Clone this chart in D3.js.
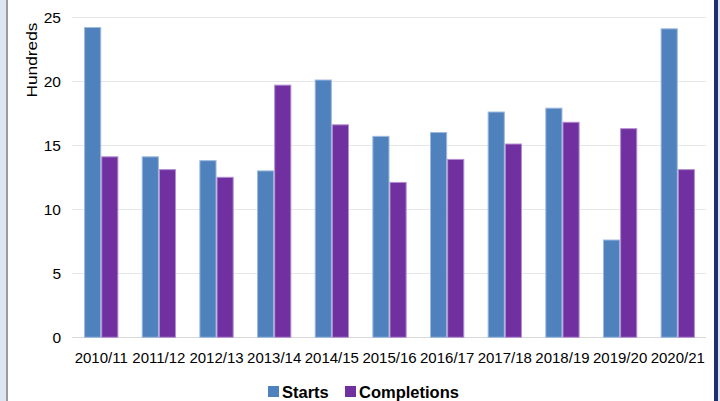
<!DOCTYPE html>
<html>
<head>
<meta charset="utf-8">
<script src="https://cdn.jsdelivr.net/npm/d3@7"></script>
<style>
  html, body { margin: 0; padding: 0; background: #fff; }
  svg { display: block; font-family: "Liberation Sans", Arial, sans-serif; }
</style>
</head>
<body>
<script>
const categories = ["2010/11", "2011/12", "2012/13", "2013/14", "2014/15", "2015/16",
                    "2016/17", "2017/18", "2018/19", "2019/20", "2020/21"];
const starts = [24.2, 14.1, 13.8, 13.0, 20.1, 15.7, 16.0, 17.6, 17.9, 7.6, 24.1];
const completions = [14.1, 13.1, 12.5, 19.7, 16.6, 12.1, 13.9, 15.1, 16.8, 16.3, 13.1];
const yTicks = [0, 5, 10, 15, 20, 25];
const seriesNames = ["Starts", "Completions"];
const seriesColors = ["#4F81BD", "#7030A0"];
const seriesStroke = ["#9DB9DE", "#B58FD0"];

const W = 720, H = 401;

const svg = d3.select("body").append("svg")
    .attr("width", W)
    .attr("height", H);

// frame: light panel + gray rule at left, navy rule at right
svg.append("rect").attr("x", 0).attr("y", 0).attr("width", 6).attr("height", H).attr("fill", "#DCE6F2");
svg.append("rect").attr("x", 6).attr("y", 0).attr("width", 2).attr("height", H).attr("fill", "#9A9A9A");
svg.append("rect").attr("x", 714).attr("y", 0).attr("width", 4).attr("height", H).attr("fill", "#1F2F6B");
svg.append("rect").attr("x", 718).attr("y", 0).attr("width", 2).attr("height", H).attr("fill", "#DCE6F2");

const x = d3.scaleBand()
    .domain(categories)
    .range([72.4, 706.6])
    .paddingInner(0.405)
    .paddingOuter(0.2025);

const x1 = d3.scaleBand()
    .domain(seriesNames)
    .range([0, x.bandwidth()]);

const y = d3.scaleLinear()
    .domain([0, 25])
    .range([337.3, 17.3]);

// gridlines
svg.append("g")
  .selectAll("line")
  .data(yTicks)
  .join("line")
    .attr("x1", 72)
    .attr("x2", 706)
    .attr("y1", d => Math.round(y(d)) + 0.5)
    .attr("y2", d => Math.round(y(d)) + 0.5)
    .attr("stroke", d => d === 0 ? "#D9D9D9" : "#E6E6E6")
    .attr("stroke-width", 1);

// y tick labels
svg.append("g")
  .selectAll("text")
  .data(yTicks)
  .join("text")
    .attr("x", 61)
    .attr("y", d => y(d))
    .attr("dy", "0.35em")
    .attr("text-anchor", "end")
    .attr("font-size", 15.5)
    .attr("fill", "#000")
    .text(d => d);

// axis title
svg.append("text")
    .attr("transform", "translate(37,60) rotate(-90)")
    .attr("text-anchor", "middle")
    .attr("font-size", 15)
    .attr("textLength", 75)
    .attr("lengthAdjust", "spacingAndGlyphs")
    .attr("fill", "#000")
    .text("Hundreds");

// bars
const rows = categories.map((c, i) => ({ cat: c, values: [starts[i], completions[i]] }));

const groups = svg.append("g")
  .selectAll("g")
  .data(rows)
  .join("g")
    .attr("transform", d => `translate(${x(d.cat)},0)`);

groups.selectAll("rect")
  .data(d => d.values.map((v, j) => ({ name: seriesNames[j], v, j })))
  .join("rect")
    .attr("x", d => x1(d.name) + 0.5)
    .attr("y", d => y(d.v))
    .attr("width", x1.bandwidth() - 1)
    .attr("height", d => y(0) - y(d.v))
    .attr("fill", d => seriesColors[d.j])
    .attr("stroke", d => seriesStroke[d.j])
    .attr("stroke-width", 1);

// x labels
svg.append("g")
  .selectAll("text")
  .data(categories)
  .join("text")
    .attr("x", d => x(d) + x.bandwidth() / 2)
    .attr("y", 358)
    .attr("dy", "0.35em")
    .attr("text-anchor", "middle")
    .attr("font-size", 15)
    .attr("fill", "#000")
    .text(d => d);

// legend
const legendX = [268, 345];
const legend = svg.append("g");
legend.selectAll("rect")
  .data(seriesNames)
  .join("rect")
    .attr("x", (d, i) => legendX[i])
    .attr("y", 386)
    .attr("width", 11)
    .attr("height", 11)
    .attr("fill", (d, i) => seriesColors[i]);
legend.selectAll("text")
  .data(seriesNames)
  .join("text")
    .attr("x", (d, i) => legendX[i] + 14)
    .attr("y", 397.5)
    .attr("font-size", 16.5)
    .attr("font-weight", "bold")
    .attr("fill", "#000")
    .text(d => d);
</script>
</body>
</html>
